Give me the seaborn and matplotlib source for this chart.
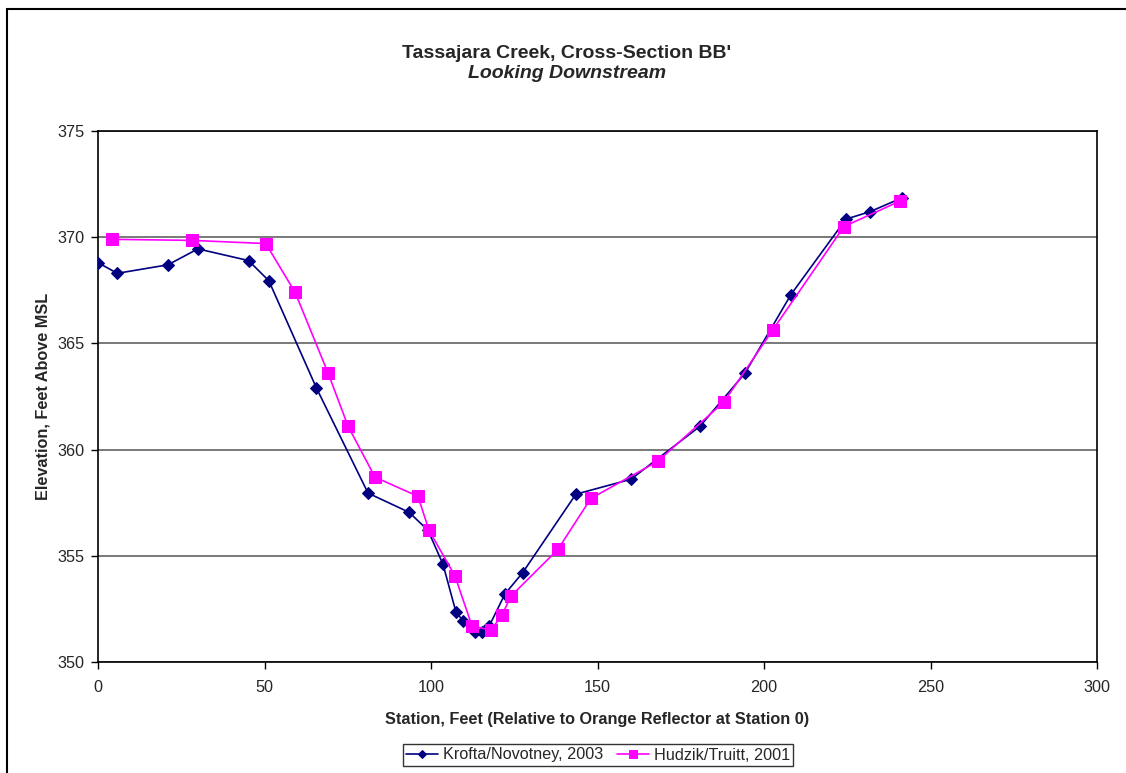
import matplotlib
matplotlib.use("Agg")
import matplotlib.pyplot as plt
from matplotlib.patches import Rectangle
import pandas as pd
import seaborn as sns

# Cross-section survey, Krofta/Novotney (2003)
krofta_station = [0, 5.8, 21.0, 30.0, 45.2, 51.3, 65.6, 81.1, 93.4, 99.1, 103.6,
                  107.5, 109.6, 113.1, 115.2, 117.5, 122.2, 127.5, 143.5, 160.0,
                  180.8, 194.3, 208.1, 224.6, 231.8, 241.4]
krofta_elev = [368.8, 368.3, 368.7, 369.45, 368.9, 367.95, 362.9, 357.95, 357.05,
               356.2, 354.6, 352.35, 351.95, 351.4, 351.4, 351.7, 353.2, 354.2,
               357.9, 358.6, 361.1, 363.6, 367.3, 370.85, 371.2, 371.85]

# Cross-section survey, Hudzik/Truitt (2001)
hudzik_station = [4.2, 28.2, 50.4, 59.2, 69.1, 75.1, 83.2, 96.1, 99.4, 107.2,
                  112.3, 118.0, 121.3, 124.0, 138.1, 148.0, 168.1, 188.0, 202.7,
                  224.0, 240.8]
hudzik_elev = [369.9, 369.85, 369.7, 367.4, 363.6, 361.1, 358.7, 357.8, 356.2,
               354.05, 351.7, 351.5, 352.2, 353.1, 355.3, 357.7, 359.45, 362.25,
               365.65, 370.5, 371.7]

series_names = ["Krofta/Novotney, 2003", "Hudzik/Truitt, 2001"]
x_ticks = [0, 50, 100, 150, 200, 250, 300]
y_ticks = [350, 355, 360, 365, 370, 375]

sns.set_theme(style="white")
plt.rcParams["font.family"] = ["Liberation Sans", "DejaVu Sans"]

W, H = 1126, 773
BASE = 11.7
fig = plt.figure(figsize=(W / 100, H / 100), dpi=100)
ax = fig.add_axes([98 / W, 1 - 662 / H, (1097 - 98) / W, (662 - 131) / H])

df_k = pd.DataFrame({"station": krofta_station, "elev": krofta_elev})
df_h = pd.DataFrame({"station": hudzik_station, "elev": hudzik_elev})

sns.lineplot(data=df_k, x="station", y="elev", sort=False, ax=ax,
             color="#000080", linewidth=1.2, marker="D", markersize=6.5,
             markeredgecolor="#000080", label=series_names[0], zorder=3)
sns.lineplot(data=df_h, x="station", y="elev", sort=False, ax=ax,
             color="#FF00FF", linewidth=1.2, marker="s", markersize=8,
             markeredgecolor="#FF00FF", label=series_names[1], zorder=4)

ax.set_xlim(0, 300)
ax.set_ylim(350, 375)
ax.set_xticks(x_ticks)
ax.set_yticks(y_ticks)
ax.tick_params(axis="both", direction="out", length=5, width=1, color="black",
               labelsize=BASE, bottom=True, left=True)
ax.tick_params(axis="x", pad=8)
ax.tick_params(axis="y", pad=5)
for sp in ax.spines.values():
    sp.set_color("black")
    sp.set_linewidth(1.2)
ax.yaxis.grid(True, color="#555555", linewidth=1.1)
ax.xaxis.grid(False)
ax.set_axisbelow(True)

ax.set_xlabel("Station, Feet (Relative to Orange Reflector at Station 0)",
              fontsize=BASE, fontweight="bold", labelpad=12)
ax.set_ylabel("Elevation, Feet Above MSL", fontsize=BASE, fontweight="bold",
              labelpad=5)

fig.text(567 / W, 1 - 54 / H, "Tassajara Creek, Cross-Section BB'", ha="center",
         va="center", fontsize=14, fontweight="bold")
fig.text(567 / W, 1 - 73 / H, "Looking Downstream", ha="center", va="center",
         fontsize=14, fontweight="bold", style="italic")

leg = ax.legend(loc="center", bbox_to_anchor=(598 / W, 1 - 755 / H),
                bbox_transform=fig.transFigure, ncol=2, frameon=True,
                fancybox=False, fontsize=BASE, handlelength=2.0,
                handletextpad=0.3, columnspacing=0.8, borderpad=0.2,
                markerscale=0.7)
leg.get_frame().set_edgecolor("black")
leg.get_frame().set_linewidth(1.0)

# outer chart frame
fig.patches.append(Rectangle((7 / W, -0.05), 1.2, 1 - 9 / H + 0.05,
                             transform=fig.transFigure, fill=False,
                             edgecolor="black", linewidth=1.5, zorder=0))

fig.savefig("out.png", dpi=100)
